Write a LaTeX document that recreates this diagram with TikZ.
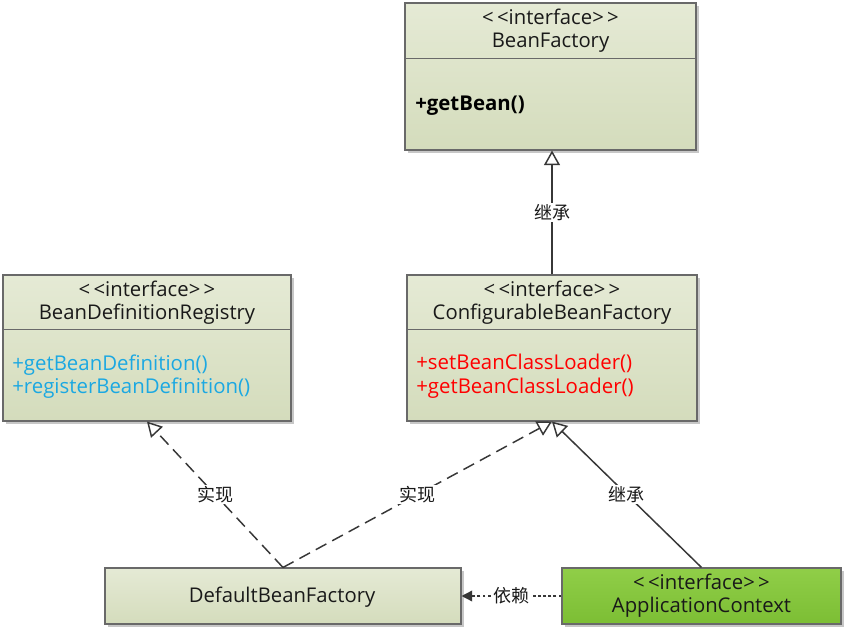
\documentclass[tikz,border=0pt]{standalone}
\usepackage{fontspec}
\setmainfont{Open Sans}
\newfontfamily\cjk{Noto Sans CJK SC}
\usetikzlibrary{arrows.meta,shadows}
\definecolor{boxtop}{RGB}{229,234,213}
\definecolor{boxbot}{RGB}{212,220,188}
\definecolor{boxline}{RGB}{105,105,105}
\definecolor{conn}{RGB}{55,55,55}
\definecolor{greentop}{RGB}{144,206,72}
\definecolor{greenbot}{RGB}{124,190,52}
\definecolor{methblue}{RGB}{27,168,226}
\definecolor{methred}{RGB}{255,0,0}
\tikzset{
  umlbox/.style={draw=boxline, line width=0.8pt, top color=boxtop, bottom color=boxbot,
    drop shadow={shadow xshift=2.2pt, shadow yshift=-2.2pt, fill=black!22, opacity=1}, inner sep=0pt},
  greenbox/.style={umlbox, top color=greentop, bottom color=greenbot},
  divider/.style={draw=boxline, line width=0.8pt},
  title/.style={align=center, inner sep=0pt, font=\fontsize{15.2}{17.25}\selectfont, text=black!90},
  meth/.style={align=left, anchor=west, inner sep=0pt, font=\fontsize{15.3}{17.75}\selectfont},
  conline/.style={draw=conn, line width=1.1pt},
  inherit/.style={conline, -{Triangle[open, length=11pt, width=12pt, fill=white]}},
  realize/.style={inherit, dash pattern=on 9pt off 5pt},
  depend/.style={conline, dash pattern=on 2.2pt off 1.6pt, -{Triangle[length=8pt, width=8pt]}},
  lbl/.style={fill=white, inner sep=1pt, font=\cjk\fontsize{13.5}{15}\selectfont, text=black!90}
}
\newcommand{\stereo}{<\kern2.5pt<interface>\kern2.5pt>}
\begin{document}
\begin{tikzpicture}[x=0.75pt,y=-0.75pt]
\useasboundingbox (0,0) rectangle (847,631);
\fill[white] (0,0) rectangle (847,631);

% BeanFactory
\node[umlbox, minimum width=218.25pt, minimum height=110.25pt] (bf) at (550.5,76.5) {};
\draw[divider] ([yshift=-42pt]bf.north west) -- ([yshift=-42pt]bf.north east);
\node[title] (bft) at (550.5,31) {\stereo\\BeanFactory};
\node[meth, font=\fontsize{15.3}{17.75}\selectfont\bfseries] (bfm) at (415,105.5) {+getBean()};

% BeanDefinitionRegistry
\node[umlbox, minimum width=216pt, minimum height=109.5pt] (bdr) at (147,348) {};
\draw[divider] ([yshift=-41.25pt]bdr.north west) -- ([yshift=-41.25pt]bdr.north east);
\node[title] (bdrt) at (147,302.5) {\stereo\\BeanDefinitionRegistry};
\node[meth, text=methblue] (bdrm) at (12,376.5) {+getBeanDefinition()\\+registerBeanDefinition()};

% ConfigurableBeanFactory
\node[umlbox, minimum width=217.5pt, minimum height=109.5pt] (cbf) at (552,348) {};
\draw[divider] ([yshift=-41.25pt]cbf.north west) -- ([yshift=-41.25pt]cbf.north east);
\node[title] (cbft) at (552,302.5) {\stereo\\ConfigurableBeanFactory};
\node[meth, text=methred] (cbfm) at (416,376.5) {+setBeanClassLoader()\\+getBeanClassLoader()};

% DefaultBeanFactory
\node[umlbox, minimum width=267pt, minimum height=42pt] (dbf) at (283,596) {};
\node[title] (dbft) at (282,597) {DefaultBeanFactory};

% ApplicationContext
\node[greenbox, minimum width=209.25pt, minimum height=42pt] (ac) at (701.5,596) {};
\node[title] (act) at (701.5,596) {\stereo\\ApplicationContext};

% connectors
\draw[inherit] (cbf.north) -- (cbf.north |- bf.south) node[lbl, midway] (l1) {继承};
\draw[realize] (dbf.north) -- (bdr.south) node[lbl, midway] (l2) {实现};
\draw[realize] (dbf.north) -- (cbf.south) node[lbl, midway] (l3) {实现};
\draw[inherit] (ac.north) -- (cbf.south) node[lbl, midway] (l4) {继承};
\draw[depend] (ac.west) -- (dbf.east) node[lbl, midway] (l5) {依赖};
\end{tikzpicture}
\end{document}
